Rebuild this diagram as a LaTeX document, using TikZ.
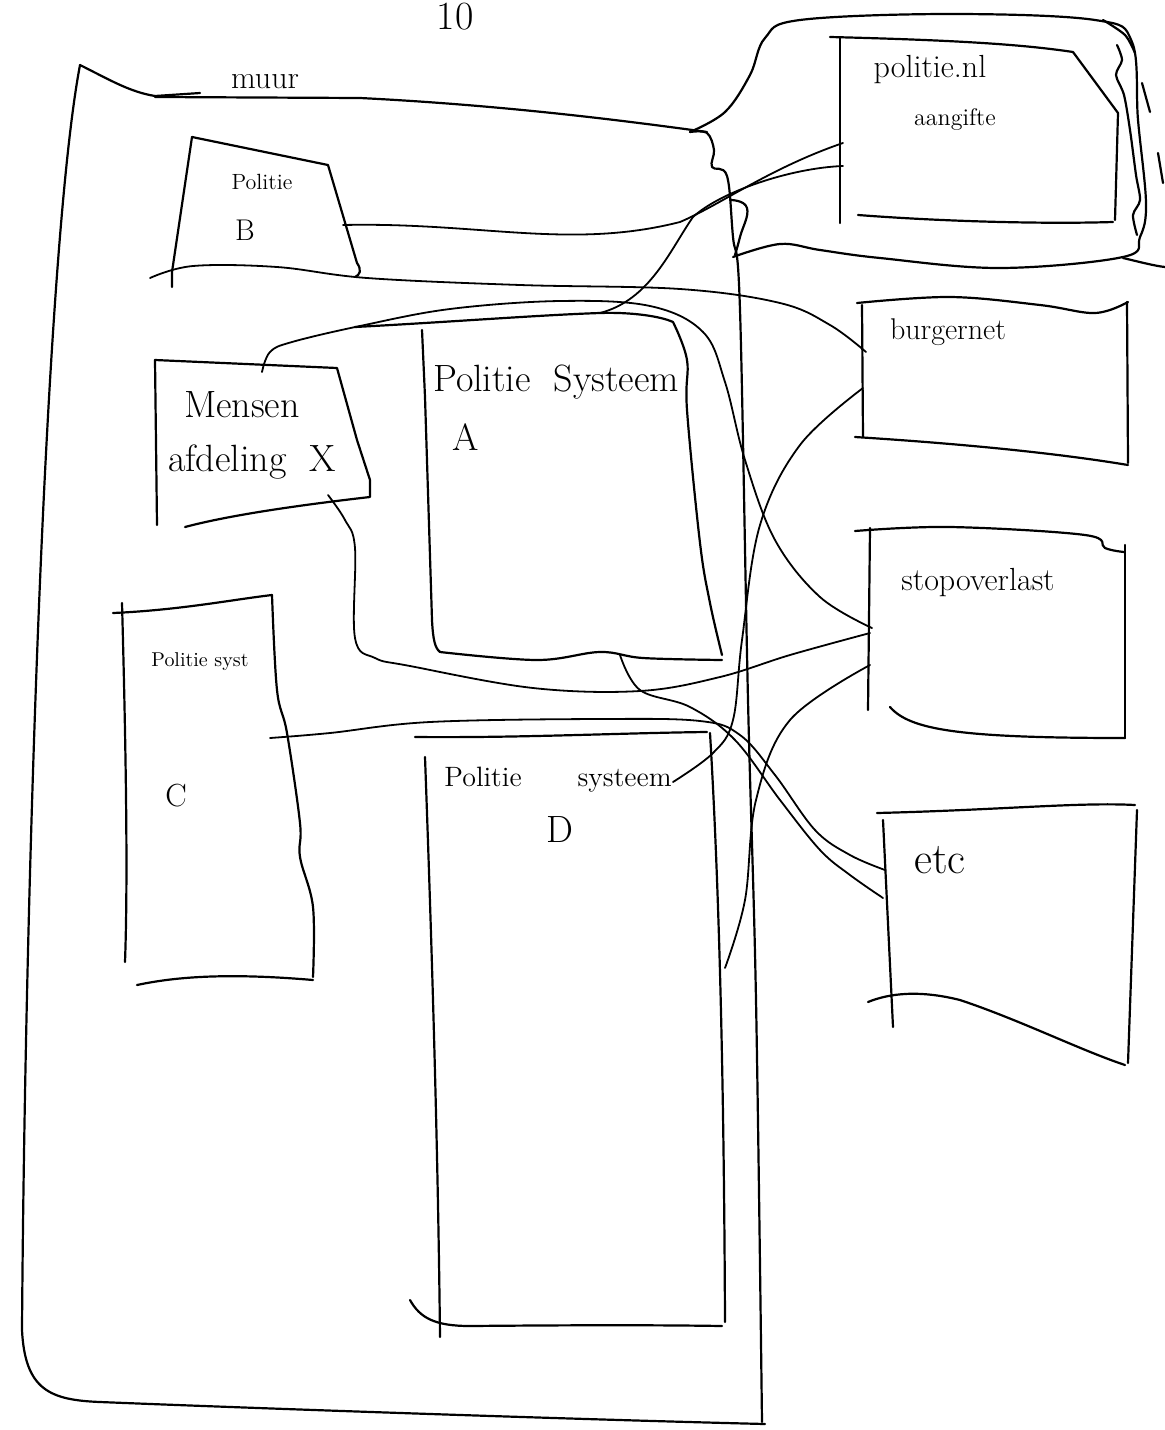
\documentclass[tikz,border=0pt]{standalone}
\begin{document}
\begin{tikzpicture}[x=0.5pt,y=-0.5pt,
  pen/.style={line width=1.1pt,line cap=round,line join=round},
  link/.style={line width=0.9pt,line cap=round,line join=round},
  lbl/.style={inner sep=0pt,font=\fontsize{#1}{#1}\selectfont},
  lbl/.default=16]
\useasboundingbox (0,0) rectangle (1165,1430);
\fill[white] (0,0) rectangle (1165,1430);

% ---------- title
\node[lbl=20,anchor=north] (ten) at (455,3) {10};

% ---------- outer wall (muur)
\draw[pen] (80,65) .. controls (110,80) and (130,92) .. (155,96) -- (200,93);
\draw[pen] (155,97) -- (360,98) .. controls (500,105) and (620,120) .. (707,132);
\draw[pen] (80,65) .. controls (45,250) and (25,900) .. (22,1330)
  .. controls (25,1390) and (50,1400) .. (100,1402)
  .. controls (300,1410) and (600,1420) .. (765,1424);
\draw[pen] plot[smooth,tension=0.6] coordinates {(690,132) (707,133) (714,150) (712,167) (727,176) (733,237) (740,310) (748,700) (756,1000) (762,1422)};
\draw[pen] plot[smooth,tension=0.8] coordinates {(730,200) (747,208) (740,237) (735,255)};
\node[lbl=16] (muur) at (265,82) {muur};

% ---------- bubble around politie.nl
\draw[pen] plot[smooth,tension=0.6] coordinates {(690,132) (725,112) (750,75) (765,38) (800,20) (950,14) (1095,20) (1132,42) (1138,120) (1146,203) (1140,237) (1123,257) (1000,268) (880,258) (820,250) (780,244) (733,257)};
\draw[pen] (1123,258) .. controls (1140,262) and (1155,266) .. (1165,267);
\draw[pen] plot[smooth] coordinates {(1103,20) (1125,35) (1135,53)};
\draw[pen] plot[smooth] coordinates {(1117,45) (1122,60) (1116,75) (1124,95) (1130,130) (1136,175) (1140,200) (1133,215) (1137,235)};
\draw[pen] (1142,83) -- (1150,112);
\draw[pen] (1158,153) -- (1163,183);

% ---------- politie.nl box
\draw[pen] (840,223) -- (840,38);
\draw[pen] (830,37) .. controls (950,40) and (1020,44) .. (1073,52) -- (1118,113) -- (1115,220);
\draw[pen] (858,215) .. controls (950,222) and (1050,224) .. (1113,222);
\node[lbl=16] (pnl) at (930,70) {politie.nl};
\node[lbl=12] (aang) at (955,120) {aangifte};
\coordinate (pnlA) at (843,143);
\coordinate (pnlB) at (843,166);

% ---------- Politie B
\draw[pen] (192,137) -- (328,165) -- (357,263) .. controls (362,270) and (360,275) .. (355,277);
\draw[pen] (192,137) -- (172,272) -- (172,287);
\node[lbl=11] (polB) at (262,182) {Politie};
\node[lbl=15] (B) at (245,230) {B};
\coordinate (Be) at (343,225);
\coordinate (Bb) at (150,278);

% ---------- Mensen afdeling X
\draw[pen] (155,360) -- (337,368) -- (357,440) -- (370,480) -- (370,497)
  .. controls (300,505) and (230,515) .. (185,527);
\draw[pen] (155,360) -- (157,525);
\node[lbl=19] (mensen) at (242,405) {Mensen};
\node[lbl=19] (afd) at (252,462) {afdeling\ \ X};
\coordinate (Xt) at (262,372);
\coordinate (Xb) at (328,495);

% ---------- Politie Systeem A
\draw[pen] (355,327) .. controls (450,322) and (540,315) .. (600,313) .. controls (630,312) and (660,316) .. (673,322);
\draw[pen] (422,330) -- (425,397) -- (432,620) .. controls (433,640) and (435,648) .. (440,652);
\draw[pen] plot[smooth,tension=0.6] coordinates {(673,322) (687,360) (687,410) (700,543) (710,603) (722,655)};
\draw[pen] plot[smooth,tension=0.6] coordinates {(440,652) (537,660) (600,652) (643,658) (722,660)};
\node[lbl=19] (polA) at (556,382) {Politie\ \ Systeem};
\node[lbl=19] (A) at (466,437) {A};
\coordinate (At) at (600,313);
\coordinate (Ab) at (620,655);

% ---------- Politie syst C
\draw[pen] (113,613) .. controls (180,610) and (230,600) .. (272,595);
\draw[pen] (122,603) .. controls (126,750) and (128,880) .. (125,962);
\draw[pen] plot[smooth,tension=0.6] coordinates {(272,595) (277,690) (287,733) (300,823) (300,857) (313,907) (313,977)};
\draw[pen] (137,985) .. controls (170,978) and (220,972) .. (313,980);
\node[lbl=10] (polC) at (200,662) {Politie syst};
\node[lbl=16] (C) at (176,796) {C};
\coordinate (Ce) at (270,738);

% ---------- Politie systeem D
\draw[pen] (415,737) .. controls (520,738) and (620,733) .. (707,732);
\draw[pen] (425,757) .. controls (432,950) and (438,1150) .. (440,1337);
\draw[pen] (710,733) .. controls (720,900) and (724,1100) .. (725,1322);
\draw[pen] (410,1300) .. controls (420,1318) and (435,1326) .. (470,1326) .. controls (580,1325) and (660,1325) .. (722,1326);
\node[lbl=14] (polD) at (558,780) {Politie\qquad systeem};
\node[lbl=19] (D) at (560,830) {D};
\coordinate (De) at (673,782);
\coordinate (Dr) at (725,968);

% ---------- burgernet
\draw[pen] (862,305) -- (863,437);
\draw[pen] plot[smooth,tension=0.6] coordinates {(857,303) (950,297) (1040,305) (1095,313) (1128,302)};
\draw[pen] (1127,302) -- (1128,463);
\draw[pen] (855,437) .. controls (950,443) and (1050,452) .. (1128,465);
\node[lbl=15] (burg) at (948,332) {burgernet};
\coordinate (burgA) at (866,352);
\coordinate (burgB) at (863,388);

% ---------- stopoverlast
\draw[pen] (870,528) -- (868,710);
\draw[pen] plot[smooth,tension=0.6] coordinates {(855,531) (950,527) (1085,535) (1105,548) (1124,552)};
\draw[pen] (1125,545) -- (1125,738);
\draw[pen] (890,707) .. controls (910,730) and (960,738) .. (1125,738);
\node[lbl=16] (stop) at (978,583) {stopoverlast};
\coordinate (stA) at (872,628);
\coordinate (stB) at (870,633);
\coordinate (stC) at (870,665);

% ---------- etc
\draw[pen] (883,820) -- (893,1027);
\draw[pen] (877,813) .. controls (1000,810) and (1080,802) .. (1135,805);
\draw[pen] (1137,810) -- (1128,1063);
\draw[pen] (868,1002) .. controls (890,993) and (920,990) .. (960,1000) .. controls (1020,1020) and (1080,1050) .. (1125,1065);
\node[lbl=22] (etc) at (940,860) {etc};
\coordinate (etA) at (885,870);
\coordinate (etB) at (883,898);

% ---------- connectors
\draw[link] (Be) .. controls (480,222) and (570,250) .. (680,222) .. controls (720,205) and (770,168) .. (pnlA);
\draw[link] (At) .. controls (650,300) and (670,250) .. (693,217) .. controls (720,192) and (790,168) .. (pnlB);
\draw[link] plot[smooth,tension=0.6] coordinates {(Bb) (193,266) (277,267) (367,278) (520,285) (680,289) (780,303) (830,325) (burgA)};
\draw[link] plot[smooth,tension=0.6] coordinates {(Xt) (270,352) (292,342) (360,326) (450,309) (560,301) (650,306) (703,332) (725,382) (745,460) (775,540) (820,597) (stA)};
\draw[link] plot[smooth,tension=0.6] coordinates {(Xb) (345,520) (355,548) (355,638) (375,658) (410,666) (533,688) (640,691) (720,677) (790,655) (stB)};
\draw[link] plot[smooth,tension=0.6] coordinates {(De) (713,753) (733,720) (742,640) (760,525) (800,445) (burgB)};
\draw[link] plot[smooth,tension=0.6] coordinates {(Dr) (745,900) (756,800) (790,720) (stC)};
\draw[link] plot[smooth,tension=0.6] coordinates {(Ce) (330,733) (430,722) (600,719) (700,721) (740,735) (775,775) (815,830) (850,855) (etA)};
\draw[link] plot[smooth,tension=0.6] coordinates {(Ab) (640,690) (690,707) (735,740) (780,800) (820,850) (850,875) (etB)};
\end{tikzpicture}
\end{document}
